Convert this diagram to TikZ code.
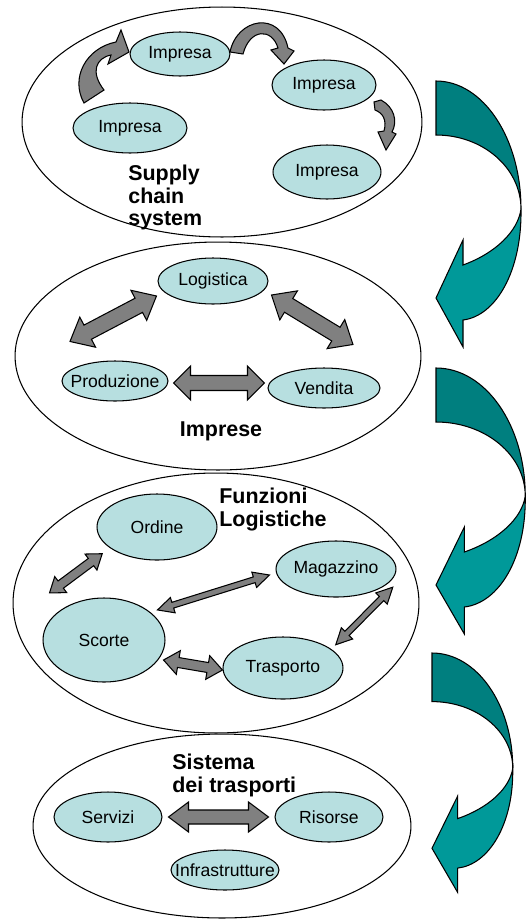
\documentclass[tikz,border=0pt]{standalone}
\usepackage{fontspec}
\setmainfont{Liberation Sans}
\usetikzlibrary{shapes.geometric,calc}
\definecolor{cellcyan}{HTML}{B7DFE0}
\definecolor{linkgray}{HTML}{808080}
\definecolor{tealdark}{HTML}{007F7F}
\definecolor{teallight}{HTML}{009999}
\newcommand{\tealarrow}[4]{
  \begin{scope}[shift={(#1,#2)}, xscale=#3, yscale=#4]
    \draw[fill=tealdark, line width=0.6pt] (0,0) .. controls (47,0) and (85,57) .. (85,128)
      .. controls (85,87) and (47,54) .. (0,54) -- cycle;
    \draw[fill=teallight, line width=0.6pt] (85,128) .. controls (86,190) and (60,235) .. (27,239)
      -- (27,266) -- (0,217) -- (27,159) -- (27,184)
      .. controls (60,172) and (82,150) .. (85,128) -- cycle;
  \end{scope}
}
\newcommand{\dblarrow}[5]{
  \coordinate (ea) at #1;
  \coordinate (eb) at #2;
  \coordinate (ha) at ($(ea)!#5!(eb)$);
  \coordinate (hb) at ($(eb)!#5!(ea)$);
  \draw[blockarrow] (ea) -- ($(ha)!#4!90:(eb)$) -- ($(ha)!#3!90:(eb)$)
    -- ($(hb)!#3!-90:(ea)$) -- ($(hb)!#4!-90:(ea)$) -- (eb)
    -- ($(hb)!#4!90:(ea)$) -- ($(hb)!#3!90:(ea)$)
    -- ($(ha)!#3!-90:(eb)$) -- ($(ha)!#4!-90:(eb)$) -- cycle;
}

\begin{document}
\begin{tikzpicture}[x=0.02cm, y=-0.02cm,
  panel/.style={ellipse, draw, line width=0.6pt, inner sep=0pt},
  unit/.style={ellipse, draw, fill=cellcyan, line width=0.6pt, inner xsep=-0.8cm, inner ysep=-0.2cm,
    font=\fontsize{10}{12}\selectfont},
  heading/.style={inner sep=0pt, align=left, font=\fontsize{12.2}{12.8}\selectfont\bfseries},
  blockarrow/.style={draw=black, fill=linkgray, line width=0.6pt}]
  \useasboundingbox (0,0) rectangle (525,920);

  % ============ Supply chain system ============
  \node[panel, minimum width=8cm, minimum height=4.6cm] (scs) at (222,122) {};
  \node[unit, minimum width=2cm, minimum height=0.88cm] (imp1) at (180,54) {Impresa};
  \node[unit, minimum width=2.08cm, minimum height=1cm] (imp2) at (324,85) {Impresa};
  \node[unit, minimum width=2.28cm, minimum height=1cm] (imp3) at (130,128) {Impresa};
  \node[unit, minimum width=2.16cm, minimum height=1.08cm] (imp4) at (327,172) {Impresa};
  \node[heading, anchor=north west] (scstitle) at (128,165) {Supply\\chain\\system};

  % curved links between the firms
  \draw[blockarrow] (84,103) .. controls (70,78) and (86,48) .. (116,42) -- (121,30) -- (129,52)
    -- (108,64) -- (111,55) .. controls (96,58) and (90,72) .. (104,90) -- cycle;
  \draw[blockarrow] (230,52) .. controls (237,18) and (280,10) .. (288,48) -- (294,51) -- (284,64)
    -- (271,50) -- (278,48) .. controls (272,28) and (250,28) .. (243,54) -- cycle;
  \draw[blockarrow] (374,102) -- (381,100) .. controls (394,107) and (398,121) .. (392,132)
    -- (396,134) -- (386,150) -- (378,132) -- (384,131) .. controls (387,120) and (383,113) .. (375,110) -- cycle;

  % ============ Imprese ============
  \node[panel, minimum width=8.12cm, minimum height=4.56cm] (imprese) at (218,356) {};
  \node[unit, minimum width=2.2cm, minimum height=0.92cm] (logi) at (213,281) {Logistica};
  \node[unit, minimum width=2.12cm, minimum height=0.8cm] (prod) at (115,381) {Produzione};
  \node[unit, minimum width=2.24cm, minimum height=0.8cm] (vend) at (324,388) {Vendita};
  \node[heading, anchor=base] (imptitle) at (221,436) {Imprese};

  \dblarrow{($(logi.west)+(-1,15)$)}{($(prod.north)+(-45,-19)$)}{0.16cm}{0.34cm}{0.4cm}
  \dblarrow{($(logi.east)+(3,14)$)}{($(vend.north)+(29,-23)$)}{0.16cm}{0.34cm}{0.4cm}
  \dblarrow{($(prod.east)+(5,2)$)}{($(vend.west)+(-3,-5)$)}{0.15cm}{0.34cm}{0.34cm}

  % ============ Funzioni logistiche ============
  \node[panel, minimum width=8.12cm, minimum height=5.2cm] (funz) at (216,603) {};
  \node[unit, minimum width=2.4cm, minimum height=1.32cm] (ordine) at (157,527) {Ordine};
  \node[unit, minimum width=2.4cm, minimum height=1.12cm] (magaz) at (336,569) {Magazzino};
  \node[unit, minimum width=2.44cm, minimum height=1.68cm] (scorte) at (104,640) {Scorte};
  \node[unit, minimum width=2.4cm, minimum height=1.24cm] (trasp) at (283,668) {Trasporto};
  \node[heading, anchor=north west] (funztitle) at (219,488) {Funzioni\\Logistiche};

  \dblarrow{($(ordine.south west)+(-12,3)$)}{($(scorte.north west)+(-11,-17)$)}{0.09cm}{0.2cm}{0.28cm}
  \dblarrow{($(scorte.north east)+(10,0)$)}{($(magaz.west)+(-6,6)$)}{0.06cm}{0.16cm}{0.32cm}
  \dblarrow{($(magaz.south east)+(14,-2)$)}{($(trasp.north east)+(10,-1)$)}{0.06cm}{0.16cm}{0.32cm}
  \dblarrow{($(scorte.east)+(-2,20)$)}{($(trasp.west)+(0,2)$)}{0.1cm}{0.24cm}{0.3cm}

  % ============ Sistema dei trasporti ============
  \node[panel, minimum width=7.56cm, minimum height=3.68cm] (sdt) at (222,826) {};
  \node[unit, minimum width=2.16cm, minimum height=1cm] (serv) at (108,817) {Servizi};
  \node[unit, minimum width=2.16cm, minimum height=1cm] (ris) at (329,817) {Risorse};
  \node[unit, minimum width=2.16cm, minimum height=0.8cm] (infra) at (225,870) {Infrastrutture};
  \node[heading, anchor=north west] (sdttitle) at (172,754) {Sistema\\dei trasporti};

  \dblarrow{($(serv.east)+(6,0)$)}{($(ris.west)+(-6,0)$)}{0.14cm}{0.3cm}{0.4cm}

  % ============ level arrows ============
  \tealarrow{436}{81}{1}{1}
  \tealarrow{436}{368}{1.05}{1}
  \tealarrow{432}{653}{0.95}{0.9}

\end{tikzpicture}
\end{document}
